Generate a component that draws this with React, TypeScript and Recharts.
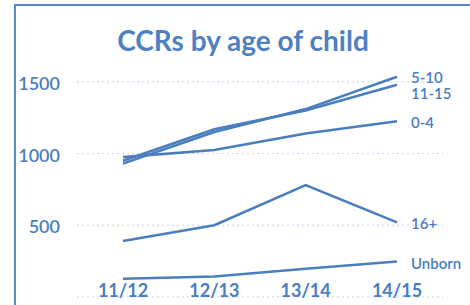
import React from "react";
import { LineChart, Line, XAxis, YAxis, CartesianGrid } from "recharts";

const categories = ["11/12", "12/13", "13/14", "14/15"];
const age5to10 = [930, 1150, 1310, 1535];
const age11to15 = [950, 1170, 1300, 1480];
const age0to4 = [975, 1025, 1140, 1225];
const age16plus = [390, 500, 780, 520];
const unborn = [127, 143, 197, 248];
const yTicks = [0, 500, 1000, 1500];
const yMax = 1750;

const seriesDefs = [
  { key: "s510", name: "5-10", values: age5to10, dy: 0 },
  { key: "s1115", name: "11-15", values: age11to15, dy: 8 },
  { key: "s04", name: "0-4", values: age0to4, dy: 1 },
  { key: "s16", name: "16+", values: age16plus, dy: 1 },
  { key: "sun", name: "Unborn", values: unborn, dy: 2 },
];

const data = categories.map((c, i) => {
  const row: any = { cat: c };
  seriesDefs.forEach((s) => (row[s.key] = s.values[i]));
  return row;
});

const BLUE = "#4a7ebf";
const FONT = "Lato, 'Open Sans', sans-serif";

const makeLabel = (name: string, dy: number) => (props: any) => {
  const { x, y, index } = props;
  if (index !== categories.length - 1) return null;
  return (
    <text x={x + 14} y={y + dy} dominantBaseline="central" fill={BLUE} fontSize={15} fontWeight={600} fontFamily={FONT}>
      {name}
    </text>
  );
};

const YTick = (props: any) => {
  const { x, y, payload } = props;
  if (payload.value === 0) return null;
  return (
    <text x={x} y={y + 1} textAnchor="end" dominantBaseline="central" fill={BLUE} fontSize={18} fontWeight={600} fontFamily={FONT}>
      {payload.value}
    </text>
  );
};

const XTick = (props: any) => {
  const { x, y, payload } = props;
  return (
    <text x={x} y={y} textAnchor="middle" fill={BLUE} fontSize={18} fontWeight={700} fontFamily={FONT}>
      {payload.value}
    </text>
  );
};

export default function App() {
  return (
    <div style={{ position: "absolute", left: 0, top: 0, width: 470, height: 305, overflow: "hidden", background: "#fff" }}>
      <div style={{ position: "absolute", left: 14, top: 4, width: 600, height: 400, border: "2px solid #5b8ac6" }} />
      <div
        style={{
          position: "absolute",
          left: 0,
          top: 21,
          width: 486,
          textAlign: "center",
          color: "#4f81c2",
          fontFamily: FONT,
          fontWeight: 700,
          fontSize: 28,
          lineHeight: "38px",
        }}
      >
        CCRs by age of child
      </div>
      <div style={{ position: "absolute", left: 0, top: 0 }}>
        <LineChart width={470} height={305} data={data} margin={{ top: 46, right: 27, bottom: 7, left: 0 }}>
          <CartesianGrid
            vertical={false}
            stroke="#c3d4ec"
            strokeDasharray="2 3"
            horizontalCoordinatesGenerator={({ offset }: any) =>
              yTicks.map((t) => offset.top + offset.height * (1 - t / yMax))
            }
          />
          <XAxis
            dataKey="cat"
            axisLine={false}
            tickLine={false}
            height={1}
            tickSize={0}
            tickMargin={0}
            padding={{ left: 46, right: 46 }}
            tick={<XTick />}
            interval={0}
          />
          <YAxis
            domain={[0, yMax]}
            ticks={yTicks}
            width={77}
            axisLine={false}
            tickLine={false}
            tickSize={0}
            tickMargin={17}
            tick={<YTick />}
            allowDataOverflow
          />
          {seriesDefs.map((s) => (
            <Line
              key={s.key}
              dataKey={s.key}
              stroke={BLUE}
              strokeWidth={2.6}
              dot={false}
              activeDot={false}
              isAnimationActive={false}
              label={makeLabel(s.name, s.dy)}
            />
          ))}
        </LineChart>
      </div>
    </div>
  );
}
